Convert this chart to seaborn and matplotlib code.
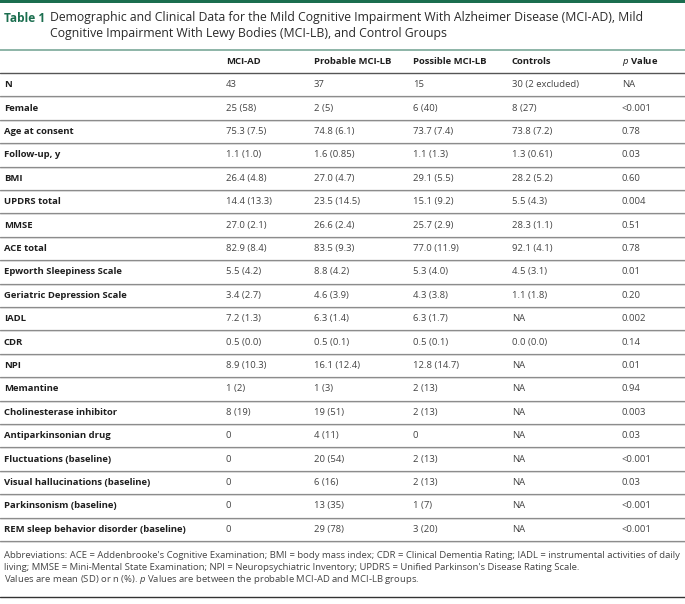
import matplotlib
matplotlib.use("Agg")
import matplotlib.pyplot as plt
import seaborn as sns

# Daten der Tabelle
columns = ["MCI-AD", "Probable MCI-LB", "Possible MCI-LB", "Controls", "p Value"]
row_labels = [
    "N", "Female", "Age at consent", "Follow-up, y", "BMI", "UPDRS total", "MMSE",
    "ACE total", "Epworth Sleepiness Scale", "Geriatric Depression Scale", "IADL",
    "CDR", "NPI", "Memantine", "Cholinesterase inhibitor", "Antiparkinsonian drug",
    "Fluctuations (baseline)", "Visual hallucinations (baseline)",
    "Parkinsonism (baseline)", "REM sleep behavior disorder (baseline)",
]
mci_ad = ["43", "25 (58)", "75.3 (7.5)", "1.1 (1.0)", "26.4 (4.8)", "14.4 (13.3)",
          "27.0 (2.1)", "82.9 (8.4)", "5.5 (4.2)", "3.4 (2.7)", "7.2 (1.3)",
          "0.5 (0.0)", "8.9 (10.3)", "1 (2)", "8 (19)", "0", "0", "0", "0", "0"]
prob_lb = ["37", "2 (5)", "74.8 (6.1)", "1.6 (0.85)", "27.0 (4.7)", "23.5 (14.5)",
           "26.6 (2.4)", "83.5 (9.3)", "8.8 (4.2)", "4.6 (3.9)", "6.3 (1.4)",
           "0.5 (0.1)", "16.1 (12.4)", "1 (3)", "19 (51)", "4 (11)", "20 (54)",
           "6 (16)", "13 (35)", "29 (78)"]
poss_lb = ["15", "6 (40)", "73.7 (7.4)", "1.1 (1.3)", "29.1 (5.5)", "15.1 (9.2)",
           "25.7 (2.9)", "77.0 (11.9)", "5.3 (4.0)", "4.3 (3.8)", "6.3 (1.7)",
           "0.5 (0.1)", "12.8 (14.7)", "2 (13)", "2 (13)", "0", "2 (13)",
           "2 (13)", "1 (7)", "3 (20)"]
controls = ["30 (2 excluded)", "8 (27)", "73.8 (7.2)", "1.3 (0.61)", "28.2 (5.2)",
            "5.5 (4.3)", "28.3 (1.1)", "92.1 (4.1)", "4.5 (3.1)", "1.1 (1.8)",
            "NA", "0.0 (0.0)", "NA", "NA", "NA", "NA", "NA", "NA", "NA", "NA"]
p_values = ["NA", "<0.001", "0.78", "0.03", "0.60", "0.004", "0.51", "0.78", "0.01",
            "0.20", "0.002", "0.14", "0.01", "0.94", "0.003", "0.03", "<0.001",
            "0.03", "<0.001", "<0.001"]

title_1 = ("Demographic and Clinical Data for the Mild Cognitive Impairment With "
           "Alzheimer Disease (MCI-AD), Mild")
title_2 = "Cognitive Impairment With Lewy Bodies (MCI-LB), and Control Groups"
notes = [
    "Abbreviations: ACE = Addenbrooke's Cognitive Examination; BMI = body mass index; "
    "CDR = Clinical Dementia Rating; IADL = instrumental activities of daily",
    "living; MMSE = Mini-Mental State Examination; NPI = Neuropsychiatric Inventory; "
    "UPDRS = Unified Parkinson's Disease Rating Scale.",
    "Values are mean (SD) or n (%). $p$ Values are between the probable MCI-AD and "
    "MCI-LB groups.",
]

sns.set_theme(style="white")
plt.rcParams["font.family"] = ["Open Sans", "DejaVu Sans"]
plt.rcParams["mathtext.fontset"] = "custom"
plt.rcParams["mathtext.it"] = "Open Sans:italic"

GREEN = "#1b6e4f"
TXT = "#444444"
LAB = "#1e1e1e"
FS = 6.8

fig = plt.figure(figsize=(6.85, 6.04), dpi=100)
ax = fig.add_axes([0, 0, 1, 1])
ax.set_xlim(0, 685)
ax.set_ylim(604, 0)
ax.axis("off")

# Kopf
ax.axhspan(0, 2.5, color=GREEN, lw=0)
ax.text(4, 18, "Table 1", color=GREEN, fontsize=8.6, fontweight="bold", va="center")
ax.text(50, 18, title_1, color="#2a2a2a", fontsize=8.8, va="center")
ax.text(50, 34, title_2, color="#2a2a2a", fontsize=8.8, va="center")

col_x = [226, 314, 413, 512, 622]
top_line = 50
head_bottom = 73
row_h = 23.4

ax.axhline(top_line, color="#7aa898", lw=1.2)
for x, name in zip(col_x, columns):
    if name == "p Value":
        ax.text(x, 61, "$p$ Value", fontsize=FS, fontweight="bold", color=LAB, va="center")
    else:
        ax.text(x, 61, name, fontsize=FS, fontweight="bold", color=LAB, va="center")
ax.axhline(head_bottom, color="#555555", lw=1.0)

series = [mci_ad, prob_lb, poss_lb, controls, p_values]
for i, lab in enumerate(row_labels):
    yc = head_bottom + (i + 0.5) * row_h
    ax.text(4, yc, lab, fontsize=FS, fontweight="bold", color=LAB, va="center")
    for x, vals in zip(col_x, series):
        ax.text(x, yc, vals[i], fontsize=FS, color=TXT, va="center")
    y_line = head_bottom + (i + 1) * row_h
    ax.axhline(y_line, color="#8c8c8c", lw=0.9)
    ax.axhline(y_line + 1, color="#d4d4d4", lw=0.6)

y_end = head_bottom + len(row_labels) * row_h
for k, line in enumerate(notes):
    ax.text(4, y_end + 14.5 + k * 12, line, fontsize=6.8, color=TXT, va="center")
ax.axhline(597, color="#333333", lw=1.0)

fig.savefig("out.png", dpi=100)
